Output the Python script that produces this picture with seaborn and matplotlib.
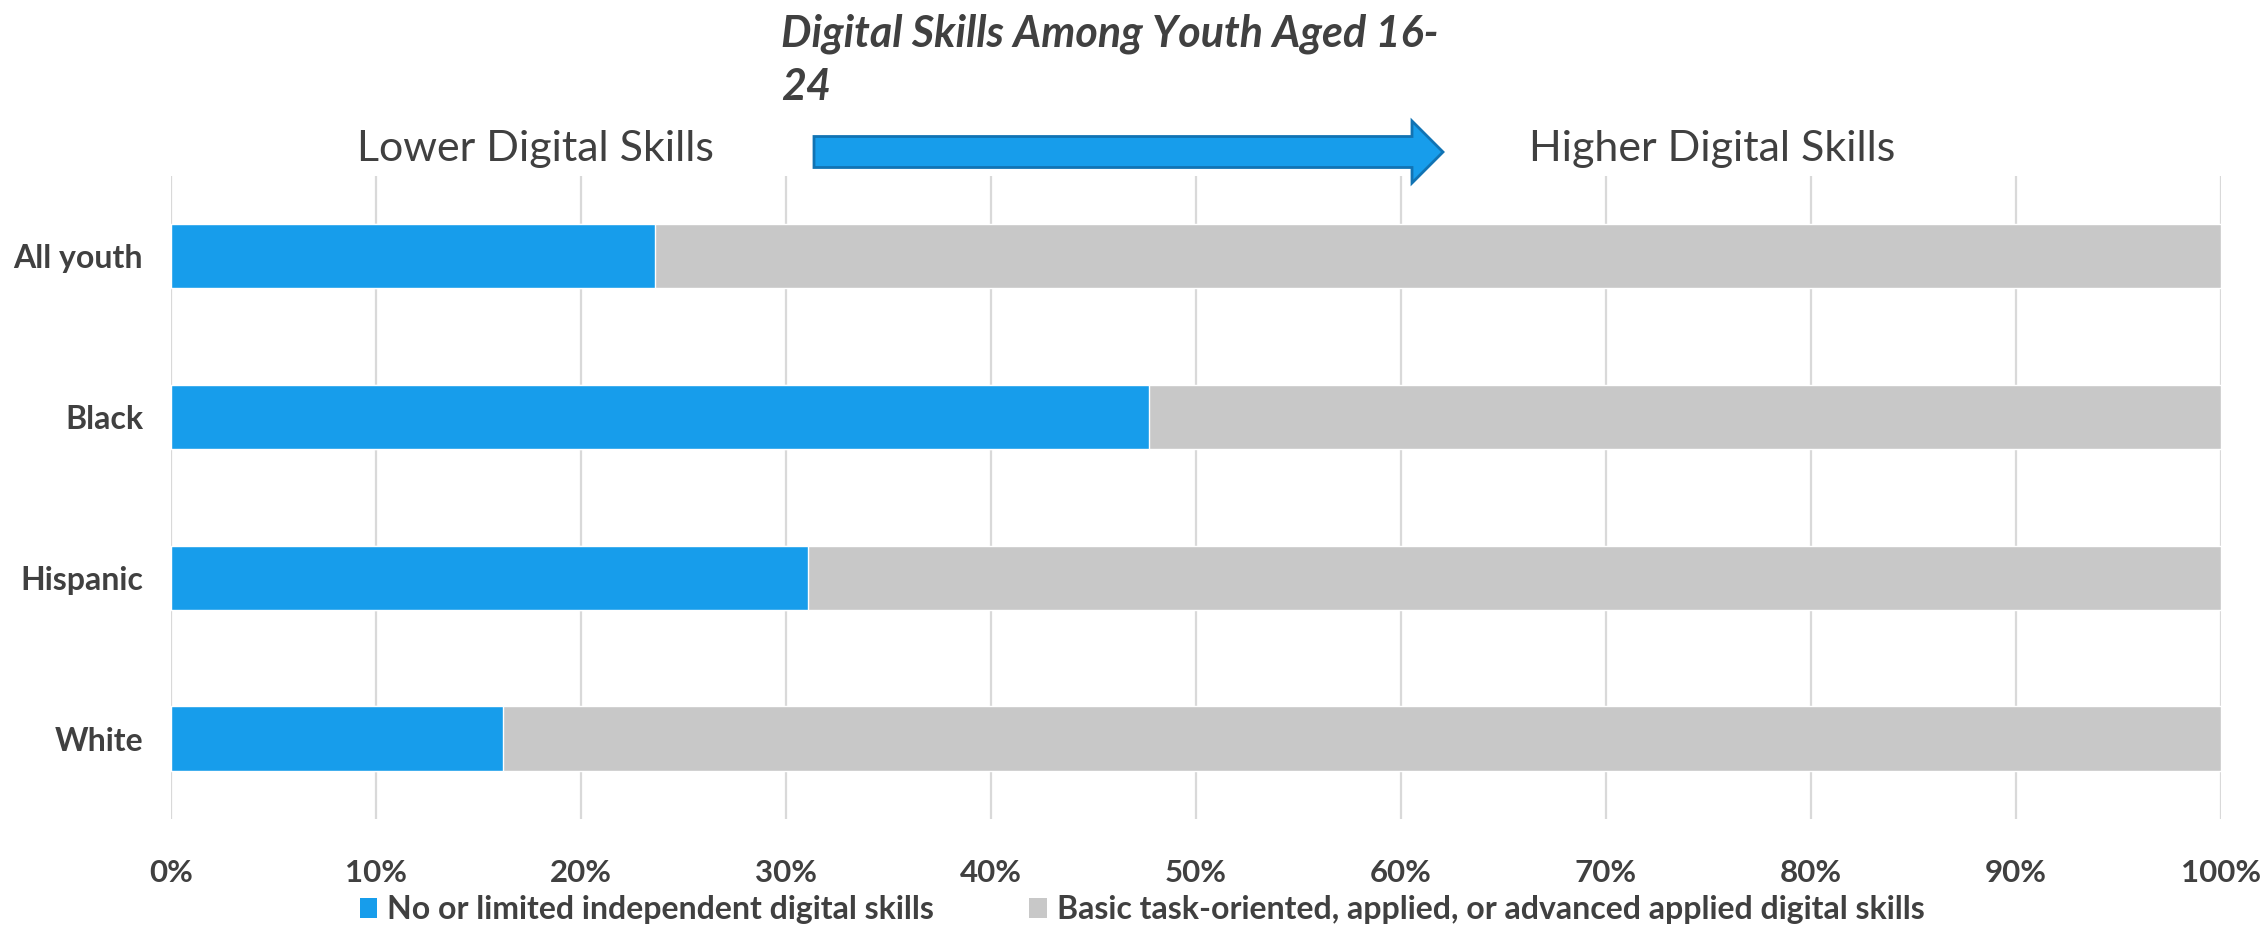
import matplotlib
matplotlib.use("Agg")
import matplotlib.pyplot as plt
import seaborn as sns
import pandas as pd
from matplotlib.patches import FancyArrow, Patch
from matplotlib.ticker import FuncFormatter, MultipleLocator

categories = ["All youth", "Black", "Hispanic", "White"]
limited = [23.6, 47.7, 31.1, 16.2]
basic = [100 - v for v in limited]
series_names = ["No or limited independent digital skills",
                "Basic task-oriented, applied, or advanced applied digital skills"]
title = "Digital Skills Among Youth Aged 16-\n24"
left_note = "Lower Digital Skills"
right_note = "Higher Digital Skills"

BLUE = "#179DEB"
GRAY = "#C8C8C8"
TXT = "#404040"

sns.set_theme(style="white")
plt.rcParams['font.family'] = ['Lato', 'DejaVu Sans']

df = pd.DataFrame({"cat": categories, "limited": limited,
                   "total": [l + b for l, b in zip(limited, basic)]})

fig = plt.figure(figsize=(22.67, 9.26), dpi=100)
ax = fig.add_axes([0.0754, 0.1156, 0.9043, 0.6944])

sns.barplot(data=df, y="cat", x="total", color=GRAY, orient="h", width=0.4,
            ax=ax, saturation=1, zorder=2)
sns.barplot(data=df, y="cat", x="limited", color=BLUE, orient="h", width=0.4,
            ax=ax, saturation=1, zorder=3)

ax.set_xlim(0, 100)
ax.set_ylim(3.5, -0.5)
ax.xaxis.set_major_locator(MultipleLocator(10))
ax.xaxis.set_major_formatter(FuncFormatter(lambda v, p: f"{v:.0f}%"))
ax.grid(axis="x", color="#D9D9D9", linewidth=1.6, zorder=0)
ax.set_axisbelow(True)
for s in ax.spines.values():
    s.set_visible(False)
ax.set_xlabel("")
ax.set_ylabel("")
ax.tick_params(axis="x", length=0, pad=29, labelsize=22.5, labelcolor=TXT)
ax.tick_params(axis="y", length=0, pad=20, labelsize=23, labelcolor=TXT)
for lab in ax.get_xticklabels() + ax.get_yticklabels():
    lab.set_fontweight("bold")

fig.text(781 / 2267, 1 - 60 / 926, title, fontsize=31, fontweight="bold",
         fontstyle="italic", color=TXT, ha="left", va="center", linespacing=1.38)
fig.text(535 / 2267, 1 - 149 / 926, left_note, fontsize=31, color=TXT,
         ha="center", va="center")
fig.text(1712 / 2267, 1 - 149 / 926, right_note, fontsize=31, color=TXT,
         ha="center", va="center")

# arrow in figure pixel coordinates
x0, x1 = 814, 1443
yc = 926 - 152
arr = FancyArrow(x0, yc, x1 - x0, 0, width=31, head_width=62, head_length=31,
                 length_includes_head=True, transform=None,
                 facecolor=BLUE, edgecolor="#1173B3", linewidth=2)
fig.add_artist(arr)

handles = [Patch(facecolor=BLUE, edgecolor="none"), Patch(facecolor=GRAY, edgecolor="none")]
leg = fig.legend(handles, series_names, loc="center", ncol=2,
                 bbox_to_anchor=(1142 / 2267, 1 - 910 / 926), frameon=False,
                 fontsize=23, handlelength=0.55, handleheight=0.6,
                 handletextpad=0.3, columnspacing=3.0)
for t in leg.get_texts():
    t.set_color(TXT)
    t.set_fontweight("bold")

fig.savefig("out.png", dpi=100)
